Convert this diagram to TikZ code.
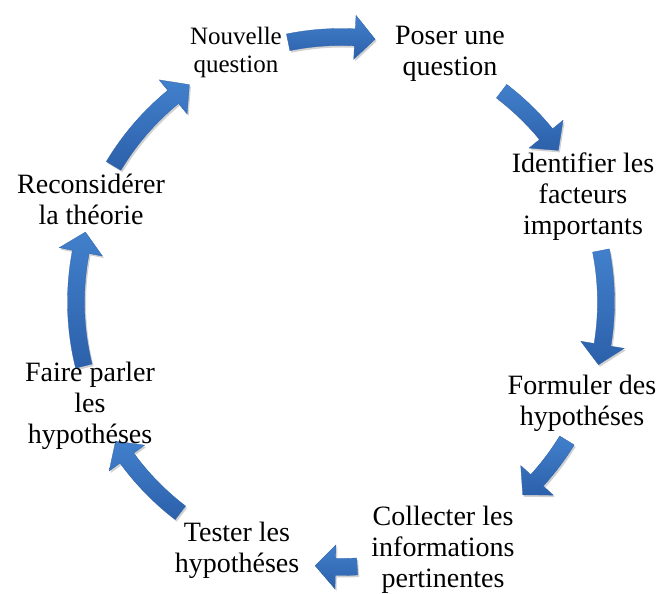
\documentclass[tikz,border=0pt]{standalone}
\usepackage{fontspec}
\setmainfont{Liberation Serif}
\newfontfamily\stepfont{Liberation Serif}
\usetikzlibrary{shadows}
\definecolor{arrtop}{RGB}{66,128,204}
\definecolor{arrbot}{RGB}{44,96,170}
\definecolor{arredge}{RGB}{46,98,170}
\tikzset{
  cyclearrow/.style={top color=arrtop, bottom color=arrbot, draw=arredge, line width=0.3pt,
    drop shadow={shadow xshift=1.5pt, shadow yshift=-2pt, opacity=0.18, fill=black}},
  steplabel/.style={align=center, font=\stepfont\fontsize{28}{31}\selectfont, inner sep=0pt},
  smalllabel/.style={align=center, font=\stepfont\fontsize{25}{28}\selectfont, inner sep=0pt},
}
\def\Rc{265}
\def\Rout{273.5}
\def\Rin{256.5}
\def\Rhi{287}
\def\Rlo{243}
\def\hd{4.4}
% #1 start angle (tail), #2 end angle (tip), angles decreasing
\newcommand\cycarrow[2]{%
  \path[cyclearrow] ({#1}:\Rout) arc[start angle={#1}, end angle={#2+\hd}, radius=\Rout]
    -- ({#2+\hd}:\Rhi) -- ({#2}:\Rc) -- ({#2+\hd}:\Rlo) -- ({#2+\hd}:\Rin)
    arc[start angle={#2+\hd}, end angle={#1}, radius=\Rin] -- cycle;}
\begin{document}
\begin{tikzpicture}[x=1pt,y=1pt]
\useasboundingbox (0,0) rectangle (667,594);
\begin{scope}[shift={(341,292)}]
  \cycarrow{101.5}{82.6}
  \cycarrow{52.7}{34.9}
  \cycarrow{11.2}{-13.7}
  \cycarrow{-31.5}{-46.7}
  \cycarrow{-86.5}{-95.6}
  \cycarrow{-127.3}{-148.3}
  \cycarrow{-166}{-195.3}
  \cycarrow{149.1}{124.9}
\end{scope}
\node[smalllabel] (n1) at (236,542) {Nouvelle\\question};
\node[steplabel] (n2) at (450,540) {Poser une\\question};
\node[steplabel] (n3) at (583,397) {Identifier les\\facteurs\\importants};
\node[steplabel] (n4) at (582,191) {Formuler des\\hypothéses};
\node[steplabel] (n5) at (443,44) {Collecter les\\informations\\pertinentes};
\node[steplabel] (n6) at (237,44) {Tester les\\hypothéses};
\node[steplabel] (n7) at (90,188) {Faire parler\\les\\hypothéses};
\node[steplabel] (n8) at (91,395) {Reconsidérer\\la théorie};
\end{tikzpicture}
\end{document}
